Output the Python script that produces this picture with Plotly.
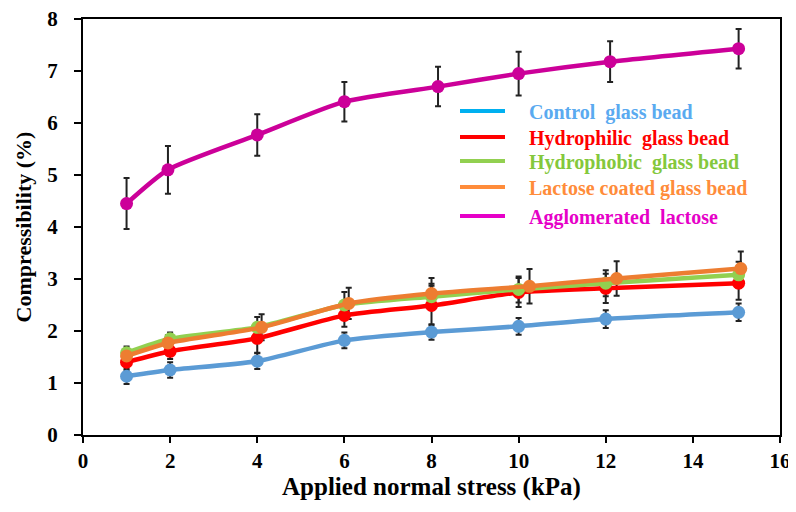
import plotly.graph_objects as go

# Datos
series = ["Control  glass bead", "Hydrophilic  glass bead", "Hydrophobic  glass bead",
          "Lactose coated glass bead", "Agglomerated  lactose"]

x_control = [1, 2, 4, 6, 8, 10, 12, 15.05]
y_control = [1.13, 1.25, 1.42, 1.82, 1.98, 2.09, 2.23, 2.36]
e_control = [0.15, 0.15, 0.15, 0.15, 0.15, 0.16, 0.17, 0.17]

x_philic = [1, 2, 4, 6, 8, 10, 12, 15.05]
y_philic = [1.40, 1.61, 1.86, 2.30, 2.49, 2.74, 2.82, 2.92]
e_philic = [0.15, 0.15, 0.28, 0.22, 0.38, 0.28, 0.28, 0.32]

x_phobic = [1, 2, 4, 6, 8, 10, 12, 15.05]
y_phobic = [1.58, 1.85, 2.07, 2.50, 2.66, 2.80, 2.92, 3.08]
e_phobic = [0.12, 0.12, 0.2, 0.25, 0.25, 0.25, 0.25, 0.25]

x_lactose = [1, 1.95, 4.1, 6.1, 8.0, 10.25, 12.25, 15.1]
y_lactose = [1.52, 1.77, 2.07, 2.53, 2.72, 2.86, 3.01, 3.20]
e_lactose = [0.1, 0.15, 0.25, 0.3, 0.3, 0.33, 0.33, 0.33]

x_agglo = [1, 1.95, 4, 6, 8.15, 10, 12.1, 15.05]
y_agglo = [4.45, 5.10, 5.77, 6.41, 6.70, 6.95, 7.18, 7.43]
e_agglo = [0.49, 0.46, 0.40, 0.38, 0.38, 0.42, 0.39, 0.38]

line_colors = ["#5b9bd5", "#ff0000", "#92d050", "#ed7d31", "#cc0099"]
legend_line_colors = ["#00b0f0", "#ff0000", "#92d050", "#ff8c3a", "#e600c8"]
text_colors = ["#5aaaf0", "#ff0000", "#84c83c", "#ff8c3a", "#e600c8"]

datos = [
    (x_control, y_control, e_control),
    (x_philic, y_philic, e_philic),
    (x_phobic, y_phobic, e_phobic),
    (x_lactose, y_lactose, e_lactose),
    (x_agglo, y_agglo, e_agglo),
]

fig = go.Figure()

for i, (xs, ys, es) in enumerate(datos):
    # barras de error primero, en negro
    fig.add_trace(go.Scatter(
        x=xs, y=ys, mode="markers",
        marker=dict(size=1, color="rgba(0,0,0,0)"),
        error_y=dict(type="data", array=es, color="#222222", thickness=2, width=3),
        showlegend=False, hoverinfo="skip",
    ))

for i, (xs, ys, es) in enumerate(datos):
    fig.add_trace(go.Scatter(
        x=xs, y=ys, mode="lines+markers", name=series[i],
        line=dict(color=line_colors[i], width=4.5, shape="spline", smoothing=0.6),
        marker=dict(size=13, color=line_colors[i]),
        showlegend=False,
    ))

# Leyenda manual (la pagina tiene 8px de margen en el body)
leg_y = [111, 137, 161, 187, 216]
for i, name in enumerate(series):
    fig.add_shape(type="line", xref="paper", yref="paper",
                  x0=(460 - 83) / 697, x1=(505 - 83) / 697,
                  y0=(435 - leg_y[i]) / 416, y1=(435 - leg_y[i]) / 416,
                  line=dict(color=legend_line_colors[i], width=4))
    fig.add_annotation(xref="paper", yref="paper",
                       x=(527 - 83) / 697, y=(435 - leg_y[i] - 1) / 416,
                       text="<b>" + name.replace("  ", "&nbsp;&nbsp;") + "</b>", showarrow=False,
                       xanchor="left", yanchor="middle",
                       font=dict(family="Liberation Serif", size=20, color=text_colors[i]))

fig.update_layout(
    width=788, height=504,
    margin=dict(l=75, r=16, t=11, b=77),
    plot_bgcolor="white", paper_bgcolor="white",
    font=dict(family="Liberation Serif", color="black"),
    showlegend=False,
)
fig.update_xaxes(
    range=[0, 16], dtick=2, showgrid=False, zeroline=False, automargin=False,
    showline=True, linecolor="black", linewidth=2, mirror=True,
    ticks="outside", ticklen=6, tickwidth=2, tickcolor="black",
    ticklabeloverflow="allow",
    tickfont=dict(size=21, family="Liberation Serif"),
    tickprefix="<b>", ticksuffix="</b>",
    title=dict(text="<b>Applied normal stress (kPa)</b>", font=dict(size=25), standoff=4),
)
fig.update_yaxes(
    range=[0, 8], dtick=1, showgrid=False, zeroline=False, automargin=False,
    showline=True, linecolor="black", linewidth=2, mirror=True,
    ticks="outside", ticklen=7, tickwidth=2, tickcolor="black",
    ticklabelstandoff=12, ticklabeloverflow="allow",
    tickfont=dict(size=21, family="Liberation Serif"),
    tickprefix="<b>", ticksuffix="</b>",
    title=dict(text="<b>Compressibility (%)</b>", font=dict(size=22), standoff=10),
)

fig.write_html("out.html")
